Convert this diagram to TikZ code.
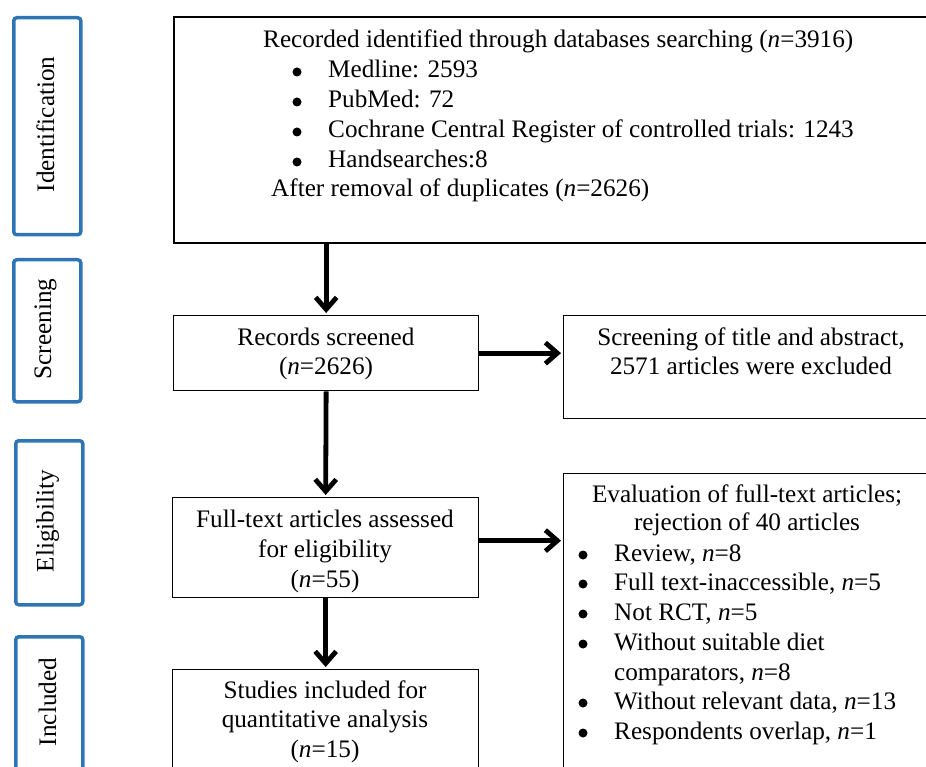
\documentclass[tikz,border=0pt]{standalone}
\usepackage{fontspec}
\setmainfont{Liberation Serif}
\usetikzlibrary{arrows.meta}
\definecolor{sideblue}{RGB}{46,117,182}
\begin{document}
\begin{tikzpicture}[x=1pt,y=-1pt,
  sidebox/.style={draw=sideblue, line width=3.5pt, rounded corners=3pt, anchor=north west, inner sep=0pt},
  mainbox/.style={draw=black, line width=1.3pt, anchor=north west, inner sep=0pt},
  txt/.style={inner sep=0pt, anchor=base west, font=\fontsize{25.2}{30}\selectfont},
  ctxt/.style={inner sep=0pt, anchor=base, font=\fontsize{25.2}{30}\selectfont},
  sidetxt/.style={inner sep=0pt, rotate=90, font=\fontsize{25.2}{30}\selectfont},
  bul/.style={circle, fill=black, inner sep=0pt, minimum size=9pt},
  arr/.style={line width=4.8pt, -{Straight Barb[length=12pt,width=21pt]}, shorten >=2pt}
]
\useasboundingbox (0,0) rectangle (926,767);
\clip (0,0) rectangle (926,767);

% side labels
\node[sidebox, minimum width=67pt, minimum height=217pt] (s1) at (12,16) {};
\node[sidebox, minimum width=67pt, minimum height=142pt] (s2) at (12,258) {};
\node[sidebox, minimum width=67pt, minimum height=164pt] (s3) at (14,439) {};
\node[sidebox, minimum width=67pt, minimum height=140pt] (s4) at (14,635) {};
\node[sidetxt] (l1) at (45.5,124.5) {Identification};
\node[sidetxt] (l2) at (45.5,329) {Screening};
\node[sidetxt] (l3) at (47.5,521) {Eligibility};
\node[sidetxt] (l4) at (47.5,702) {Included};

% main boxes
\node[mainbox, line width=2pt, minimum width=768pt, minimum height=226pt] (b1) at (173,16) {};
\node[mainbox, minimum width=305pt, minimum height=75pt] (b2) at (173,315) {};
\node[mainbox, minimum width=376pt, minimum height=103pt] (b3) at (563,315) {};
\node[mainbox, minimum width=306pt, minimum height=100pt] (b4) at (172,497) {};
\node[mainbox, minimum width=306pt, minimum height=131pt] (b5) at (172,669) {};
\node[mainbox, minimum width=368pt, minimum height=327pt] (b6) at (563,473) {};

% box 1 text
\node[txt] (t10) at (263,48) {Recorded identified through databases searching (\textit{n}=3916)};
\node[bul] (p11) at (297,72) {};
\node[txt] (t11) at (328,78) {Medline: 2593};
\node[bul] (p12) at (297,102) {};
\node[txt] (t12) at (328,108) {PubMed: 72};
\node[bul] (p13) at (297,132) {};
\node[txt] (t13) at (328,138) {Cochrane Central Register of controlled trials: 1243};
\node[bul] (p14) at (297,162) {};
\node[txt] (t14) at (328,168) {Handsearches:8};
\node[txt] (t15) at (271,197) {After removal of duplicates (\textit{n}=2626)};

% box 2
\node[ctxt] (t21) at (326,345) {Records screened};
\node[ctxt] (t22) at (326,374) {(\textit{n}=2626)};
% box 3
\node[ctxt] (t31) at (751,345) {Screening of title and abstract,};
\node[ctxt] (t32) at (751,374) {2571 articles were excluded};
% box 4
\node[ctxt] (t41) at (325,527) {Full-text articles assessed};
\node[ctxt] (t42) at (325,557) {for eligibility};
\node[ctxt] (t43) at (325,587) {(\textit{n}=55)};
% box 5
\node[ctxt] (t51) at (325,698) {Studies included for};
\node[ctxt] (t52) at (325,727) {quantitative analysis};
\node[ctxt] (t53) at (325,757) {(\textit{n}=15)};
% box 6
\node[ctxt] (t61) at (747,502) {Evaluation of full-text articles;};
\node[ctxt] (t62) at (747,530) {rejection of 40 articles};
\node[bul] (p63) at (583,555) {};
\node[txt] (t63) at (614,561) {Review, \textit{n}=8};
\node[bul] (p64) at (583,584) {};
\node[txt] (t64) at (614,590) {Full text-inaccessible, \textit{n}=5};
\node[bul] (p65) at (583,614) {};
\node[txt] (t65) at (614,620) {Not RCT, \textit{n}=5};
\node[bul] (p66) at (583,644) {};
\node[txt] (t66) at (614,650) {Without suitable diet};
\node[txt] (t67) at (614,680) {comparators, \textit{n}=8};
\node[bul] (p68) at (583,703) {};
\node[txt] (t68) at (614,709) {Without relevant data, \textit{n}=13};
\node[bul] (p69) at (583,733) {};
\node[txt] (t69) at (614,739) {Respondents overlap, \textit{n}=1};

% arrows
\draw[arr] (b1.south -| b2.north) -- (b2.north);
\draw[arr] (b2.south) -- (b4.north);
\draw[arr] (b4.south) -- (b5.north);
\draw[arr] (b2.east) -- (b2.east -| b3.west);
\coordinate (a4) at ([yshift=7pt]b4.east);
\draw[arr] (a4) -- (a4 -| b6.west);
\end{tikzpicture}
\end{document}
